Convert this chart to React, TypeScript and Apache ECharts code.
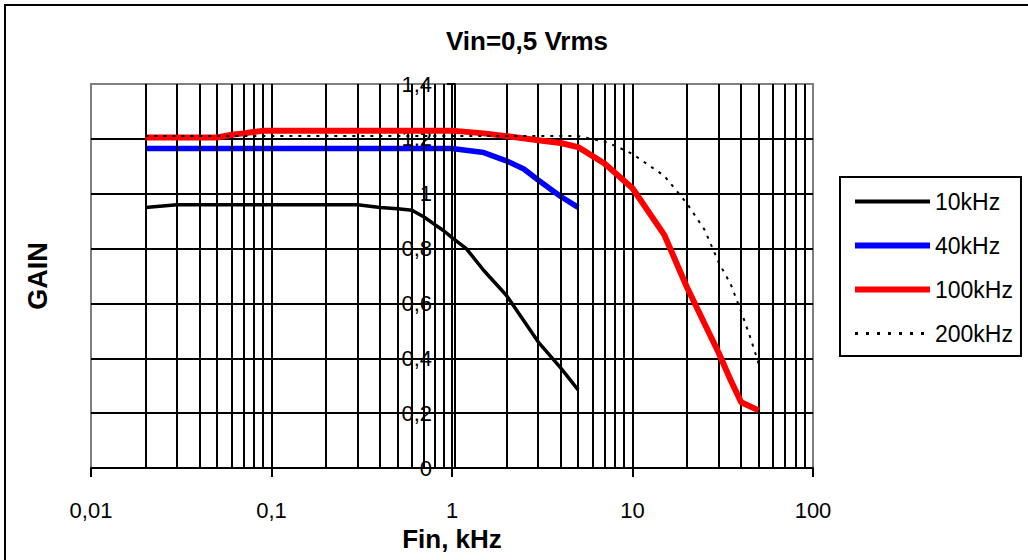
import React, { useEffect, useRef } from "react";
import * as echarts from "echarts";

const chartTitle = "Vin=0,5 Vrms";
const xAxisName = "Fin, kHz";
const yAxisName = "GAIN";

const seriesNames = ["10kHz", "40kHz", "100kHz", "200kHz"];
const seriesColors = ["#000000", "#0000ff", "#ff0000", "#000000"];

// 10 kHz
const f10 = [0.02, 0.03, 0.1, 0.3, 0.4, 0.5, 0.6, 0.7, 0.8, 0.9, 1, 1.2, 1.5, 2, 3, 4, 5];
const g10 = [0.95, 0.96, 0.96, 0.96, 0.95, 0.945, 0.94, 0.915, 0.888, 0.865, 0.84, 0.8, 0.72, 0.63, 0.46, 0.365, 0.285];

// 40 kHz
const f40 = [0.02, 0.1, 0.5, 1, 1.5, 2, 2.5, 3, 4, 5];
const g40 = [1.165, 1.165, 1.165, 1.165, 1.15, 1.12, 1.09, 1.05, 0.99, 0.95];

// 100 kHz
const f100 = [0.02, 0.05, 0.06, 0.07, 0.09, 0.5, 1, 1.5, 2, 3, 4, 5, 7, 10, 15, 20, 30, 35, 40, 50];
const g100 = [1.205, 1.205, 1.215, 1.22, 1.23, 1.23, 1.23, 1.22, 1.21, 1.195, 1.185, 1.17, 1.11, 1.02, 0.85, 0.66, 0.42, 0.32, 0.24, 0.21];

// 200 kHz
const f200 = [0.02, 0.1, 1, 5, 7, 8, 10, 15, 20, 25, 30, 35, 40, 45, 50];
const g200 = [1.21, 1.21, 1.21, 1.21, 1.19, 1.175, 1.145, 1.065, 0.965, 0.87, 0.75, 0.67, 0.57, 0.475, 0.38];

// log axis: decades and in-between gridline multipliers
const decades = [0.01, 0.1, 1, 10];
const multipliers = [1, 2, 3, 4, 5, 6, 7, 8, 9];

const FONT = "'Liberation Sans', Arial, sans-serif";

const zip = (xs: number[], ys: number[]) => xs.map((x, i) => [x, ys[i]]);

export default function App() {
  const ref = useRef<HTMLDivElement>(null);

  useEffect(() => {
    if (!ref.current) return;
    const chart = echarts.init(ref.current, undefined, { renderer: "svg" });

    const gridXs: number[] = [];
    decades.forEach((d) =>
      multipliers.forEach((m) => {
        const v = +(d * m).toPrecision(6);
        if (v > 0.01 && v < 100) gridXs.push(v);
      })
    );

    const dataSets = [zip(f10, g10), zip(f40, g40), zip(f100, g100), zip(f200, g200)];
    const widths = [3.5, 5.5, 6, 2];
    const legendWidths = [4, 6, 6, 3];
    const types: any[] = ["solid", "solid", "solid", [3, 6]];

    const option: any = {
      animation: false,
      backgroundColor: "#ffffff",
      textStyle: { fontFamily: FONT },
      title: {
        text: chartTitle,
        left: 527,
        top: 28,
        padding: 0,
        textAlign: "center",
        textStyle: { fontSize: 26, fontWeight: "bold", color: "#000", fontFamily: FONT },
      },
      graphic: [
        {
          type: "rect",
          shape: { x: 5, y: 5, width: 1200, height: 800 },
          style: { fill: "none", stroke: "#000", lineWidth: 2 },
          silent: true,
          z: 100,
        },
      ],
      legend: {
        orient: "vertical",
        left: 840,
        top: 177,
        data: seriesNames.map((name, i) => ({
          name,
          itemStyle: { opacity: 0 },
          lineStyle: {
            color: seriesColors[i],
            width: legendWidths[i],
            type: i === 3 ? [3, 8] : "solid",
          },
        })),
        itemWidth: 75,
        itemHeight: 14,
        itemGap: 21,
        padding: [13, 8, 11, 12],
        borderColor: "#000",
        borderWidth: 2,
        backgroundColor: "#fff",
        itemStyle: { opacity: 0 },
        textStyle: { fontSize: 23, color: "#000", fontFamily: FONT },
      },
      grid: {
        left: 91,
        right: 215,
        top: 84,
        bottom: 92,
        show: true,
        borderColor: "#808080",
        borderWidth: 2,
        backgroundColor: "transparent",
        containLabel: false,
        outerBoundsMode: "none",
      },
      xAxis: {
        type: "log",
        logBase: 10,
        min: 0.01,
        max: 100,
        name: xAxisName,
        nameLocation: "middle",
        nameGap: 52,
        nameTextStyle: { fontSize: 26, fontWeight: "bold", color: "#000", fontFamily: FONT },
        axisLine: { show: true, onZero: false, lineStyle: { color: "#000", width: 2 } },
        axisTick: { show: true, length: 9, lineStyle: { color: "#000", width: 2 } },
        axisLabel: {
          margin: 31,
          fontSize: 22,
          color: "#000",
          fontFamily: FONT,
          formatter: (v: number) => String(+(+v).toPrecision(6)).replace(".", ","),
        },
        splitLine: { show: false },
        minorTick: { show: false },
      },
      yAxis: {
        type: "value",
        min: 0,
        max: 1.4,
        interval: 0.2,
        offset: -364,
        name: yAxisName,
        nameLocation: "middle",
        nameRotate: 90,
        nameGap: 404,
        nameTextStyle: { fontSize: 27, fontWeight: "bold", color: "#000", fontFamily: FONT },
        axisLine: { show: true, onZero: false, lineStyle: { color: "#000", width: 2 } },
        axisTick: { show: true, length: 8, lineStyle: { color: "#000", width: 2 } },
        axisLabel: {
          margin: 23,
          fontSize: 22,
          color: "#000",
          fontFamily: FONT,
          formatter: (v: number) => String(+(+v).toFixed(1)).replace(".", ","),
        },
        splitLine: {
          show: true,
          showMinLine: false,
          showMaxLine: false,
          lineStyle: { color: "#000", width: 2 },
        },
      },
      series: [
        {
          name: "grid",
          type: "line",
          data: [],
          z: 1,
          silent: true,
          markLine: {
            silent: true,
            symbol: ["none", "none"],
            label: { show: false },
            lineStyle: { color: "#000", width: 2, type: "solid" },
            emphasis: { disabled: true },
            data: gridXs.map((v) => ({ xAxis: v })),
          },
        },
        ...seriesNames.map((name, i) => ({
          name,
          type: "line",
          data: dataSets[i],
          showSymbol: false,
          symbol: "none",
          smooth: false,
          z: 3 + i,
          color: seriesColors[i],
          itemStyle: { color: seriesColors[i] },
          lineStyle: { color: seriesColors[i], width: widths[i], type: types[i] },
          emphasis: { disabled: true },
        })),
      ],
    };

    chart.setOption(option);
    return () => chart.dispose();
  }, []);

  return (
    <div
      ref={ref}
      style={{ position: "absolute", left: 0, top: 0, width: 1028, height: 560, background: "#fff" }}
    />
  );
}
